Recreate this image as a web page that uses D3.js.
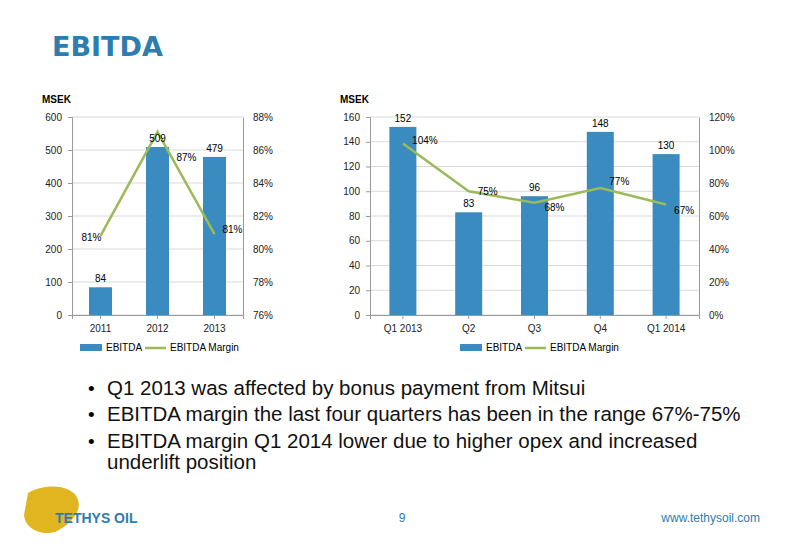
<!DOCTYPE html><html><head><meta charset="utf-8"><script src="https://cdn.jsdelivr.net/npm/d3@7"></script>
<style>body{margin:0;background:#fff;font-family:"Liberation Sans",Arial,sans-serif}</style></head><body><svg id="c" width="800" height="554"></svg>
<script>
const yearCats=["2011","2012","2013"];
const yearEbitda=[84,509,479];
const yearMargin=[0.808,0.871,0.809];
const yearLeftTicks=[0,100,200,300,400,500,600];
const yearRightTicks=[0.76,0.78,0.80,0.82,0.84,0.86,0.88];
const qCats=["Q1 2013","Q2","Q3","Q4","Q1 2014"];
const qEbitda=[152,83,96,148,130];
const qMargin=[1.04,0.75,0.68,0.77,0.67];
const qLeftTicks=[0,20,40,60,80,100,120,140,160];
const qRightTicks=[0,0.2,0.4,0.6,0.8,1.0,1.2];
const bullets=["Q1 2013 was affected by bonus payment from Mitsui","EBITDA margin the last four quarters has been in the range 67%-75%","EBITDA margin Q1 2014 lower due to higher opex and increased","underlift position"];

const svg=d3.select("#c");
const BAR="#3a8bbf",LINE="#9bbb59",GRID="#d9d9d9",TXT="#222";
svg.append("text").attr("x",52).attr("y",56).text("EBITDA").attr("font-size",27).attr("font-weight","bold").attr("fill","#2e7db0").attr("font-family","DejaVu Sans");

function chart(o){
  const x=d3.scaleBand().domain(o.cats).range([o.x0,o.x1]);
  const yL=d3.scaleLinear().domain([o.lt[0],o.lt[o.lt.length-1]]).range([315,117]);
  const yR=d3.scaleLinear().domain([o.rt[0],o.rt[o.rt.length-1]]).range([315,117]);
  const g=svg.append("g");
  g.append("text").attr("x",o.x0-30).attr("y",103).text("MSEK").attr("font-size",10).attr("font-weight","bold");
  o.lt.forEach(t=>{g.append("line").attr("x1",o.x0).attr("x2",o.x1).attr("y1",yL(t)).attr("y2",yL(t)).attr("stroke",GRID);});
  g.append("g").attr("transform",`translate(${o.x0},0)`).call(d3.axisLeft(yL).tickValues(o.lt).tickSize(4).tickPadding(6));
  g.append("g").attr("transform",`translate(${o.x1},0)`).call(d3.axisRight(yR).tickValues(o.rt).tickFormat(d3.format(".0%")).tickSize(0).tickPadding(10));
  g.append("g").attr("transform","translate(0,315)").call(d3.axisBottom(x).tickSize(4).tickPadding(6));
  g.selectAll(".domain").attr("stroke","#999");g.selectAll(".tick line").attr("stroke","#999");
  g.selectAll(".tick text").attr("font-size",10).attr("fill",TXT).attr("font-family","Liberation Sans");
  g.selectAll(".b").data(o.vals).join("rect").attr("x",(d,i)=>x(o.cats[i])+x.bandwidth()/2-o.bw/2).attr("width",o.bw)
    .attr("y",d=>yL(d)).attr("height",d=>315-yL(d)).attr("fill",BAR);
  g.append("path").datum(o.m).attr("fill","none").attr("stroke",LINE).attr("stroke-width",2.5)
    .attr("d",d3.line().x((d,i)=>x(o.cats[i])+x.bandwidth()/2).y(d=>yR(d)));
  o.vals.forEach((v,i)=>g.append("text").attr("x",x(o.cats[i])+x.bandwidth()/2).attr("y",yL(v)-5).attr("text-anchor","middle").attr("font-size",10).text(v));
  o.m.forEach((v,i)=>g.append("text").attr("x",x(o.cats[i])+x.bandwidth()/2+o.mdx[i]).attr("y",yR(v)+o.mdy[i]).attr("text-anchor","middle").attr("font-size",10).text(Math.round(v*100)+"%"));
  const lx=o.lx;
  g.append("rect").attr("x",lx).attr("y",344).attr("width",22).attr("height",7).attr("fill",BAR);
  g.append("text").attr("x",lx+26).attr("y",351).attr("font-size",10).text("EBITDA");
  g.append("line").attr("x1",lx+65).attr("x2",lx+86).attr("y1",348).attr("y2",348).attr("stroke",LINE).attr("stroke-width",2.5);
  g.append("text").attr("x",lx+90).attr("y",351).attr("font-size",10).text("EBITDA Margin");
}
chart({cats:yearCats,vals:yearEbitda,m:yearMargin,lt:yearLeftTicks,rt:yearRightTicks,x0:72,x1:243,bw:23,lx:80,
  mdx:[-9,29,18],mdy:[5,29,-1]});
chart({cats:qCats,vals:qEbitda,m:qMargin,lt:qLeftTicks,rt:qRightTicks,x0:370,x1:699,bw:27,lx:460,
  mdx:[22,19,20,19,18],mdy:[1,4,8,-3,10]});

bullets.forEach((b,i)=>{
  const y=[395,421,448,469][i];
  if(i<3) svg.append("text").attr("x",88).attr("y",y).attr("font-size",19).text("•");
  svg.append("text").attr("x",107).attr("y",y).attr("font-size",20.5).attr("fill","#111").text(b);
});
svg.append("path").attr("d","M28,493 C45,482 75,485 78,500 C82,512 70,525 55,532 C40,536 25,528 24,515 Z").attr("fill","#e0b520");
svg.append("text").attr("x",55).attr("y",523).attr("font-size",14).attr("font-weight","bold").attr("fill","#2e7db0").text("TETHYS OIL");
svg.append("text").attr("x",402).attr("y",522).attr("font-size",12).attr("fill","#2e7db0").attr("text-anchor","middle").text("9");
svg.append("text").attr("x",760).attr("y",522).attr("font-size",12).attr("fill","#2e7db0").attr("text-anchor","end").text("www.tethysoil.com");
</script></body></html>
